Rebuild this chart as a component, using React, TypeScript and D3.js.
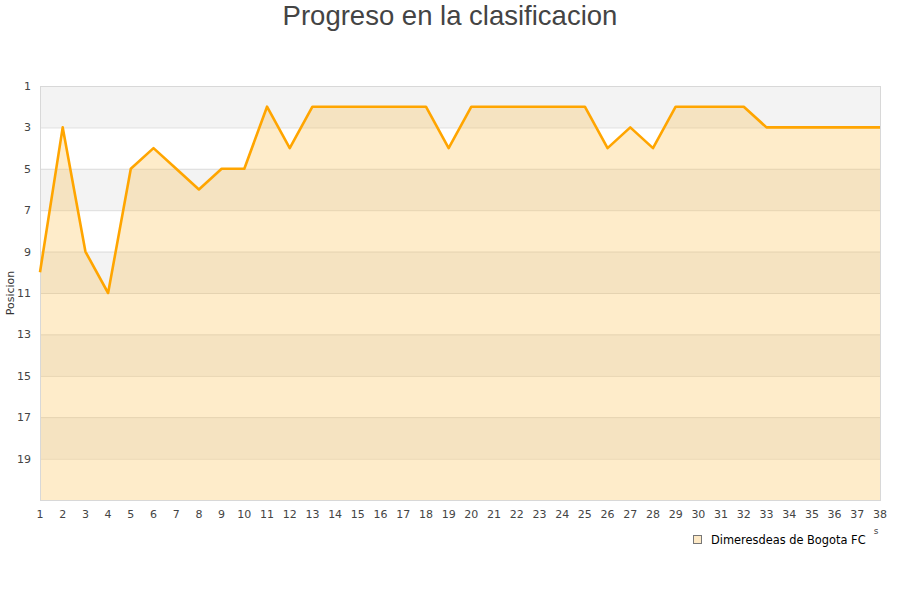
import React, { useRef, useEffect } from "react";
import * as d3 from "d3";

const rounds: number[] = d3.range(1, 39);
const positions: number[] = [
  10, 3, 9, 11, 5, 4, 5, 6, 5, 5, 2, 4, 2, 2, 2, 2, 2, 2, 4, 2, 2, 2, 2, 2, 2,
  4, 3, 4, 2, 2, 2, 2, 3, 3, 3, 3, 3, 3,
];
const yTicks: number[] = [1, 3, 5, 7, 9, 11, 13, 15, 17, 19];
const bandStarts: number[] = [1, 3, 5, 7, 9, 11, 13, 15, 17, 19];
const title = "Progreso en la clasificacion";
const yLabel = "Posicion";
const seriesName = "Dimeresdeas de Bogota FC";

const App: React.FC = () => {
  const ref = useRef<SVGSVGElement | null>(null);
  const width = 900;
  const height = 600;
  const margin = { top: 86, right: 20, bottom: 100, left: 40 };

  useEffect(() => {
    const svg = d3.select(ref.current);
    svg.selectAll("*").remove();

    const x = d3
      .scaleLinear()
      .domain([1, 38])
      .range([margin.left, width - margin.right]);
    const y = d3
      .scaleLinear()
      .domain([1, 21])
      .range([margin.top, height - margin.bottom]);

    const font = "DejaVu Sans, sans-serif";

    // fondo con bandas alternas
    svg
      .append("g")
      .selectAll("rect")
      .data(bandStarts)
      .join("rect")
      .attr("x", x(1))
      .attr("width", x(38) - x(1))
      .attr("y", (d) => y(d))
      .attr("height", (d) => y(d + 2) - y(d))
      .attr("fill", (d, i) => (i % 2 === 0 ? "#f3f3f3" : "#ffffff"));

    // lineas de la grilla
    svg
      .append("g")
      .selectAll("line")
      .data(yTicks.slice(1).concat([21]))
      .join("line")
      .attr("x1", x(1))
      .attr("x2", x(38))
      .attr("y1", (d) => y(d) + 0.5)
      .attr("y2", (d) => y(d) + 0.5)
      .attr("stroke", "#dcdcdc")
      .attr("stroke-width", 1);

    const data = rounds.map((r, i) => ({ r, p: positions[i] }));

    const area = d3
      .area<{ r: number; p: number }>()
      .x((d) => x(d.r))
      .y0(y(21))
      .y1((d) => y(d.p));

    svg
      .append("path")
      .datum(data)
      .attr("fill", "rgba(252,192,78,0.3)")
      .attr("d", area);

    // borde del area de trazado
    svg
      .append("rect")
      .attr("x", x(1) + 0.5)
      .attr("y", y(1) + 0.5)
      .attr("width", x(38) - x(1))
      .attr("height", y(21) - y(1))
      .attr("fill", "none")
      .attr("stroke", "#d8d8d8");

    const line = d3
      .line<{ r: number; p: number }>()
      .x((d) => x(d.r))
      .y((d) => y(d.p));

    svg
      .append("path")
      .datum(data)
      .attr("fill", "none")
      .attr("stroke", "#ffa500")
      .attr("stroke-width", 2.6)
      .attr("stroke-linejoin", "round")
      .attr("d", line);

    // ejes
    svg
      .append("g")
      .selectAll("text")
      .data(yTicks)
      .join("text")
      .attr("x", 31)
      .attr("y", (d) => y(d) + 4)
      .attr("text-anchor", "end")
      .attr("font-family", font)
      .attr("font-size", 11)
      .attr("fill", "#444")
      .text((d) => d);

    svg
      .append("g")
      .selectAll("text")
      .data(rounds)
      .join("text")
      .attr("x", (d) => x(d))
      .attr("y", 518)
      .attr("text-anchor", "middle")
      .attr("font-family", font)
      .attr("font-size", 11)
      .attr("fill", "#444")
      .text((d) => d);

    svg
      .append("text")
      .attr("transform", "translate(14," + (height - margin.bottom + margin.top) / 2 + ") rotate(-90)")
      .attr("text-anchor", "middle")
      .attr("font-family", font)
      .attr("font-size", 11)
      .attr("fill", "#333")
      .text(yLabel);

    svg
      .append("text")
      .attr("x", 876)
      .attr("y", 534)
      .attr("text-anchor", "middle")
      .attr("font-family", font)
      .attr("font-size", 9)
      .attr("fill", "#444")
      .text("s");

    // titulo
    svg
      .append("text")
      .attr("x", width / 2)
      .attr("y", 25)
      .attr("text-anchor", "middle")
      .attr("font-family", "Liberation Sans, Arial, sans-serif")
      .attr("font-size", 27.5)
      .attr("fill", "#444")
      .text(title);

    // leyenda
    svg
      .append("rect")
      .attr("x", 693.5)
      .attr("y", 535.5)
      .attr("width", 8)
      .attr("height", 8)
      .attr("fill", "#fde9c6")
      .attr("stroke", "#777");

    svg
      .append("text")
      .attr("x", 711)
      .attr("y", 544)
      .attr("font-family", font)
      .attr("font-size", 11.4)
      .attr("fill", "#000")
      .text(seriesName);
  }, []);

  return (
    <svg
      ref={ref}
      width={width}
      height={height}
      style={{ position: "absolute", left: 0, top: 0, background: "#fff" }}
    ></svg>
  );
};

export default App;
